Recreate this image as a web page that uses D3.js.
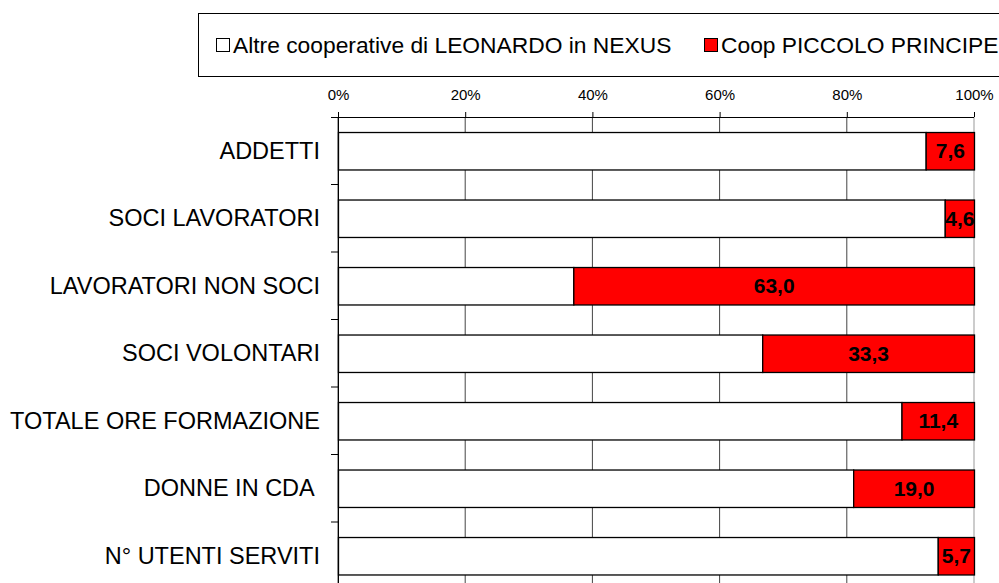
<!DOCTYPE html>
<html>
<head>
<meta charset="utf-8">
<script src="https://cdn.jsdelivr.net/npm/d3@7"></script>
<style>
  body { margin: 0; background: #fff; }
  svg { display: block; font-family: "Liberation Sans", Arial, sans-serif; }
  .cat { white-space: pre; }
</style>
</head>
<body>
<script>
const categories = ["ADDETTI", "SOCI LAVORATORI", "LAVORATORI NON SOCI", "SOCI VOLONTARI",
                    "TOTALE ORE FORMAZIONE", "DONNE IN CDA ", "N° UTENTI SERVITI"];
// quota Coop PICCOLO PRINCIPE (%)
const piccolo = [7.6, 4.6, 63.0, 33.3, 11.4, 19.0, 5.7];
// quota altre cooperative = resto fino a 100
const altre = piccolo.map(v => 100 - v);
const seriesNames = ["Altre cooperative di LEONARDO in NEXUS", "Coop PICCOLO PRINCIPE"];
const seriesColors = ["#ffffff", "#ff0000"];
const tickValues = [0, 20, 40, 60, 80, 100];

const W = 999, H = 583;
const svg = d3.select("body").append("svg").attr("width", W).attr("height", H);

const x = d3.scaleLinear().domain([0, 100]).range([338, 974]);
const y = d3.scaleBand().domain(categories).range([117, 117 + 67.5 * 7]).paddingInner(0.445).paddingOuter(0.2225);

// gridlines
svg.append("g").selectAll("line").data(tickValues).join("line")
  .attr("x1", d => x(d)).attr("x2", d => x(d))
  .attr("y1", 117).attr("y2", H)
  .attr("stroke", d => d === 100 ? "#999" : "#444").attr("stroke-width", 1);

// top axis
const xAxis = d3.axisTop(x).tickValues(tickValues).tickFormat(d => d + "%").tickSize(5).tickSizeOuter(0);
const gx = svg.append("g").attr("transform", "translate(0,117)").call(xAxis);
gx.select(".domain").attr("stroke", "#000");
gx.selectAll(".tick line").attr("stroke", "#000");
gx.selectAll(".tick text").attr("font-size", 15).attr("fill", "#000")
  .attr("font-family", "Liberation Sans, Arial, sans-serif").attr("dy", "-0.6em");
gx.select(".domain").attr("d", `M331,0.5H974`);

// y axis line + ticks at band boundaries
svg.append("line").attr("x1", 338.5).attr("x2", 338.5).attr("y1", 117).attr("y2", H).attr("stroke", "#000");
const bounds = d3.range(1, 7).map(i => 117 + 67.5 * i);
svg.append("g").selectAll("line").data(bounds).join("line")
  .attr("x1", 331).attr("x2", 338).attr("y1", d => d).attr("y2", d => d)
  .attr("stroke", "#000");

// category labels
svg.append("g").selectAll("text").data(categories).join("text")
  .attr("class", "cat")
  .attr("x", 320).attr("y", d => y(d) + y.bandwidth() / 2)
  .attr("dy", "0.35em").attr("text-anchor", "end")
  .attr("font-size", 23.5).attr("fill", "#000").text(d => d);

// bars: altre then piccolo, stacked
const rows = categories.map((c, i) => ({ c, a: altre[i], p: piccolo[i] }));
const g = svg.append("g");
g.selectAll("rect.a").data(rows).join("rect").attr("class", "a")
  .attr("x", x(0) + 0.5).attr("y", d => y(d.c) + 0.5)
  .attr("width", d => x(d.a) - x(0)).attr("height", y.bandwidth())
  .attr("fill", seriesColors[0]).attr("stroke", "#000").attr("stroke-width", 1.3);
g.selectAll("rect.p").data(rows).join("rect").attr("class", "p")
  .attr("x", d => x(d.a) + 0.5).attr("y", d => y(d.c) + 0.5)
  .attr("width", d => x(100) - x(d.a)).attr("height", y.bandwidth())
  .attr("fill", seriesColors[1]).attr("stroke", "#000").attr("stroke-width", 1.3);
g.selectAll("text").data(rows).join("text")
  .attr("x", d => (x(d.a) + x(100)) / 2 + 0.5).attr("y", d => y(d.c) + y.bandwidth() / 2)
  .attr("dy", "0.36em").attr("text-anchor", "middle")
  .attr("font-size", 21).attr("font-weight", "bold").attr("fill", "#000")
  .text(d => d.p.toFixed(1).replace(".", ","));

// legend
const lg = svg.append("g");
lg.append("rect").attr("x", 198.5).attr("y", 13.5).attr("width", 820).attr("height", 63)
  .attr("fill", "#fff").attr("stroke", "#000");
const legX = [216, 704];
seriesNames.forEach((n, i) => {
  lg.append("rect").attr("x", legX[i] + 0.5).attr("y", 38.5).attr("width", 13).attr("height", 13)
    .attr("fill", seriesColors[i]).attr("stroke", "#000");
  lg.append("text").attr("x", legX[i] + 17).attr("y", 45).attr("dy", "0.35em")
    .attr("font-size", 22.8).attr("fill", "#000").text(n);
});
</script>
</body>
</html>
